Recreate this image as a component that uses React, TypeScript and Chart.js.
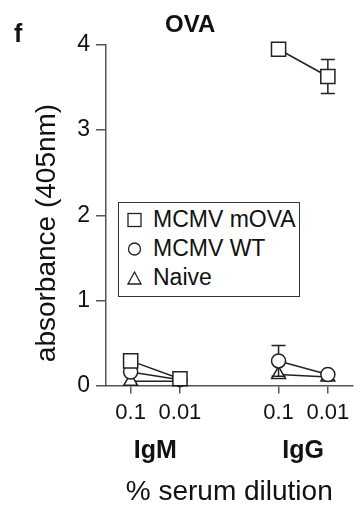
import React, { useEffect, useRef } from "react";
import { Chart, registerables } from "chart.js";

Chart.register(...registerables);

// x positions: IgM 0.1, IgM 0.01, (gap), IgG 0.1, IgG 0.01
const xPositions = [0, 1, 3, 4];
const xTickLabels = ["0.1", "0.01", "0.1", "0.01"];
const groupPositions = [0.5, 3.5];
const groupLabels = ["IgM", "IgG"];
const yTicks = [0, 1, 2, 3, 4];
const yTitle = "absorbance (405nm)";
const xTitle = "% serum dilution";

const seriesNames = ["MCMV mOVA", "MCMV WT", "Naive"];
const mOVA = [0.29, 0.08, 3.95, 3.63];
const wt = [0.16, 0.07, 0.29, 0.13];
const naive = [0.05, 0.05, 0.13, 0.1];
const mOVAErr = [0.03, 0.02, 0.0, 0.2];
const wtErr = [0.02, 0.01, 0.18, 0.02];
const naiveErr = [0.01, 0.01, 0.03, 0.01];

const pointStyles = ["rect", "circle", "triangle"];
const pointRadii = [10, 7, 8];

const FONT = "'Liberation Sans', Arial, sans-serif";

function toData(vals: number[]) {
  const pts: { x: number; y: number | null }[] = [];
  vals.forEach((v, i) => {
    if (i === 2) pts.push({ x: 2, y: null });
    pts.push({ x: xPositions[i], y: v });
  });
  return pts;
}

const errorBarPlugin = {
  id: "errorBars",
  afterDatasetsDraw(chart: any) {
    const { ctx } = chart;
    const yScale = chart.scales.y;
    const xScale = chart.scales.x;
    const errs = [mOVAErr, wtErr, naiveErr];
    const vals = [mOVA, wt, naive];
    ctx.save();
    ctx.strokeStyle = "#222";
    ctx.lineWidth = 1.5;
    for (let s = 2; s >= 0; s--) {
      vals[s].forEach((v, i) => {
        const e = errs[s][i];
        if (!e) return;
        const px = xScale.getPixelForValue(xPositions[i]);
        const top = yScale.getPixelForValue(v + e);
        const bot = yScale.getPixelForValue(v - e);
        const r = pointRadii[s] * (s === 0 ? 0.71 : 1);
        const cy = yScale.getPixelForValue(v);
        ctx.beginPath();
        if (top < cy - r) {
          ctx.moveTo(px, cy - r);
          ctx.lineTo(px, top);
          ctx.moveTo(px - 7, top);
          ctx.lineTo(px + 7, top);
        }
        if (bot > cy + r) {
          ctx.moveTo(px, cy + r);
          ctx.lineTo(px, bot);
          ctx.moveTo(px - 7, bot);
          ctx.lineTo(px + 7, bot);
        }
        ctx.stroke();
      });
    }
    ctx.restore();
  },
};

const yTitlePlugin = {
  id: "yTitle",
  afterDraw(chart: any) {
    const { ctx } = chart;
    ctx.save();
    ctx.translate(47, 233);
    ctx.rotate(-Math.PI / 2);
    ctx.font = `28px ${FONT}`;
    ctx.fillStyle = "#111";
    ctx.textAlign = "center";
    ctx.textBaseline = "middle";
    ctx.fillText(yTitle, 0, 0);
    ctx.restore();
  },
};

const noSidePadding = (scale: any) => {
  scale.paddingLeft = 0;
  scale.paddingRight = 0;
};

export default function App() {
  const canvasRef = useRef<HTMLCanvasElement | null>(null);

  useEffect(() => {
    if (!canvasRef.current) return;
    const allVals = [mOVA, wt, naive];
    const chart = new Chart(canvasRef.current, {
      type: "line",
      data: {
        datasets: allVals.map((vals, s) => ({
          label: seriesNames[s],
          data: toData(vals),
          borderColor: "#222",
          borderWidth: 1.5,
          backgroundColor: "#fff",
          pointBackgroundColor: "#fff",
          pointBorderColor: "#222",
          pointBorderWidth: 1.5,
          pointStyle: pointStyles[s] as any,
          pointRadius: pointRadii[s],
          spanGaps: false,
          clip: false as any,
        })),
      },
      options: {
        animation: false,
        responsive: false,
        maintainAspectRatio: false,
        layout: { padding: { top: 45, right: -3, left: 0, bottom: 0 } },
        plugins: {
          legend: { display: false },
          tooltip: { enabled: false },
          title: { display: false },
        },
        scales: {
          x: {
            type: "linear",
            min: -0.5,
            max: 4.5,
            position: "bottom",
            afterBuildTicks: (scale: any) => {
              scale.ticks = xPositions.map((v) => ({ value: v }));
            },
            afterFit: noSidePadding,
            ticks: {
              callback: (_v: any, i: number) => xTickLabels[i],
              color: "#111",
              font: { family: FONT, size: 22 },
              padding: 6,
              maxRotation: 0,
              autoSkip: false,
            },
            grid: {
              drawOnChartArea: false,
              drawTicks: true,
              tickLength: 8,
              color: "#555",
              lineWidth: 1.5,
            },
            border: { display: true, color: "#555", width: 1.5 },
          },
          x2: {
            type: "linear",
            min: -0.5,
            max: 4.5,
            position: "bottom",
            afterBuildTicks: (scale: any) => {
              scale.ticks = groupPositions.map((v) => ({ value: v }));
            },
            afterFit: noSidePadding,
            ticks: {
              callback: (_v: any, i: number) => groupLabels[i],
              color: "#111",
              font: { family: FONT, size: 25, weight: "bold" },
              padding: 4,
              maxRotation: 0,
              autoSkip: false,
            },
            grid: { display: false, drawTicks: false },
            border: { display: false },
            title: {
              display: true,
              text: xTitle,
              color: "#111",
              font: { family: FONT, size: 28, lineHeight: 1 },
              padding: { top: 8, bottom: 0 },
            },
          },
          y: {
            type: "linear",
            min: 0,
            max: 4,
            afterBuildTicks: (scale: any) => {
              scale.ticks = yTicks.map((v) => ({ value: v }));
            },
            afterFit: (scale: any) => {
              scale.width = 106;
            },
            ticks: {
              color: "#111",
              font: { family: FONT, size: 23 },
              padding: 6,
            },
            grid: {
              drawOnChartArea: false,
              drawTicks: true,
              tickLength: 10,
              color: "#555",
              lineWidth: 1.5,
            },
            border: { display: true, color: "#555", width: 1.5 },
          },
        },
      } as any,
      plugins: [errorBarPlugin, yTitlePlugin],
    });
    return () => chart.destroy();
  }, []);

  const legendMarker = (s: number) => {
    if (s === 0)
      return (
        <svg width="16" height="16">
          <rect x="1" y="1.5" width="13" height="13" fill="#fff" stroke="#222" strokeWidth="1.3" />
        </svg>
      );
    if (s === 1)
      return (
        <svg width="16" height="16">
          <circle cx="7.5" cy="8" r="6" fill="#fff" stroke="#222" strokeWidth="1.3" />
        </svg>
      );
    return (
      <svg width="16" height="16">
        <polygon points="7.5,2 14,14 1,14" fill="#fff" stroke="#222" strokeWidth="1.3" />
      </svg>
    );
  };

  return (
    <div style={{ position: "fixed", left: 0, top: 0, width: 364, height: 506, background: "#fff" }}>
      <canvas ref={canvasRef} width={364} height={506} style={{ display: "block" }} />
      <div
        style={{
          position: "absolute",
          left: 14,
          top: 19,
          fontFamily: FONT,
          fontWeight: "bold",
          fontSize: 25,
          lineHeight: "normal",
          color: "#111",
        }}
      >
        f
      </div>
      <div
        style={{
          position: "absolute",
          left: 165,
          top: 10,
          fontFamily: FONT,
          fontWeight: "bold",
          fontSize: 24,
          lineHeight: "normal",
          color: "#111",
        }}
      >
        OVA
      </div>
      <div
        style={{
          position: "absolute",
          left: 118,
          top: 202,
          width: 182,
          height: 95,
          border: "1.5px solid #333",
          background: "#fff",
          fontFamily: FONT,
          fontSize: 23,
          color: "#111",
          boxSizing: "border-box",
          paddingTop: 2,
          whiteSpace: "nowrap",
        }}
      >
        {seriesNames.map((n, s) => (
          <div key={n} style={{ display: "flex", alignItems: "center", height: 29, paddingLeft: 8 }}>
            <span style={{ width: 26, display: "inline-flex" }}>{legendMarker(s)}</span>
            <span>{n}</span>
          </div>
        ))}
      </div>
    </div>
  );
}
